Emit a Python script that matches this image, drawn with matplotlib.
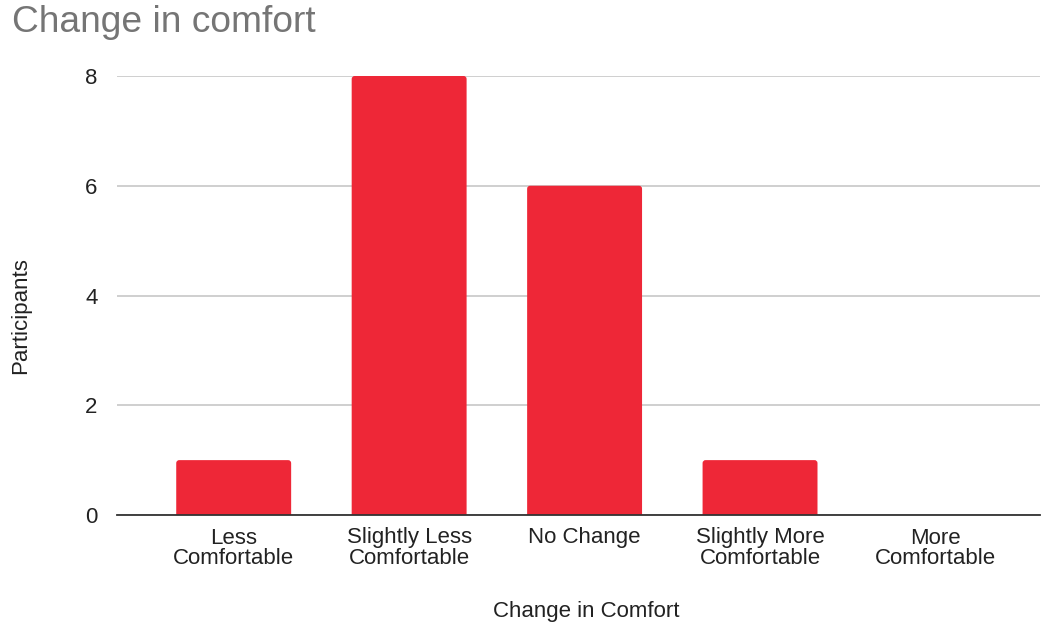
import matplotlib
matplotlib.use("Agg")
import matplotlib.pyplot as plt
from matplotlib.patches import FancyBboxPatch

categories = ["Less\nComfortable", "Slightly Less\nComfortable", "No Change",
              "Slightly More\nComfortable", "More\nComfortable"]
participants = [1, 8, 6, 1, 0]
yticks = [0, 2, 4, 6, 8]

plt.rcParams['font.family'] = ['Liberation Sans', 'DejaVu Sans']

fig = plt.figure(figsize=(10.42, 6.25), dpi=100)
ax = fig.add_axes([0.1123, 0.176, 0.886, 0.7024])

bar_color = "#EE2737"
width = 0.655
bars = ax.bar(range(len(categories)), participants, width=width, color=bar_color, zorder=3)
# replace with slightly rounded bars
px_per_x = 0.886 * 1042 / (4.597 + 0.665)
px_per_y = 0.7024 * 625 / 8.0
r = 3.0 / px_per_x
aspect = px_per_x / px_per_y
for b in bars:
    if b.get_height() <= 0:
        b.set_visible(False)
        continue
    x0, w, h = b.get_x(), b.get_width(), b.get_height()
    pad_y = 4.0 / px_per_y
    p = FancyBboxPatch((x0, -pad_y), w, h + pad_y,
                       boxstyle=f"round,pad=0,rounding_size={r}",
                       mutation_aspect=aspect,
                       facecolor=bar_color, edgecolor="none", zorder=3,
                       clip_on=True)
    ax.add_patch(p)
    b.set_visible(False)

ax.set_xlim(-0.665, 4.597)
ax.set_ylim(0, 8)
ax.set_yticks(yticks)
ax.set_xticks(range(len(categories)))
ax.set_xticklabels(categories, fontsize=16, color="#222222", linespacing=1.0)
ax.tick_params(axis='y', labelsize=16, colors="#222222", length=0, pad=14)
ax.tick_params(axis='x', length=0, pad=9)
for lab in ax.get_yticklabels():
    lab.set_color("#222222")

ax.grid(axis='y', color="#CCCCCC", linewidth=1.3, zorder=0)
for s in ["top", "right", "left"]:
    ax.spines[s].set_visible(False)
ax.spines["bottom"].set_color("#333333")
ax.spines["bottom"].set_linewidth(1.3)
ax.spines["bottom"].set_zorder(4)

fig.text(12 / 1042, 1 - 22 / 625, "Change in comfort", fontsize=26.7, color="#757575",
         ha="left", va="center")
fig.text(586 / 1042, 1 - 612 / 625, "Change in Comfort", fontsize=16, color="#222222",
         ha="center", va="center")
fig.text(21 / 1042, 1 - 316 / 625, "Participants", fontsize=16, color="#222222",
         ha="center", va="center", rotation=90)

fig.savefig("out.png", dpi=100, facecolor="white")
